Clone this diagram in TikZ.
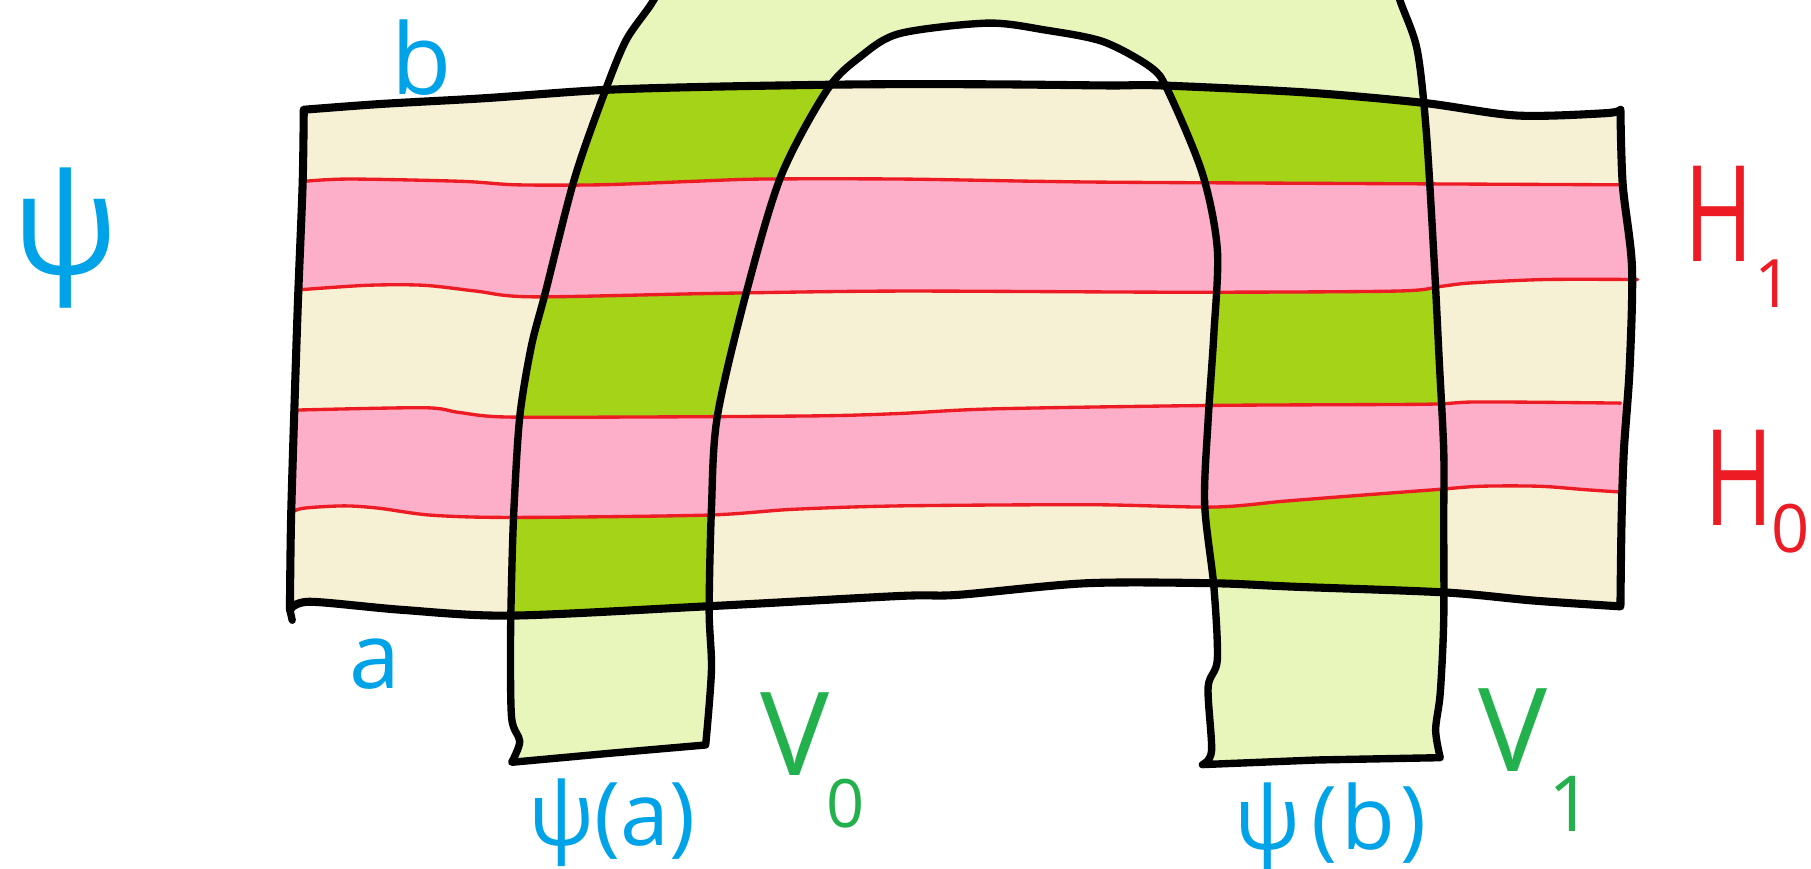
\documentclass[tikz,border=0pt]{standalone}
\usepackage{fontspec}
\setmainfont{Open Sans}
\usepackage{graphicx}
\definecolor{beige}{HTML}{F6F0D4}
\definecolor{pinkb}{HTML}{FDAEC9}
\definecolor{lgreen}{HTML}{E8F6BC}
\definecolor{dgreen}{HTML}{A5D318}
\definecolor{pblue}{HTML}{00A2E8}
\definecolor{pred}{HTML}{ED1C24}
\definecolor{pgreen}{HTML}{22B14C}
\newcommand{\fsz}[1]{\fontsize{#1}{#1}\selectfont}
\tikzset{
  rectp/.style={insert path={
    (263,95) -- plot[smooth,tension=0.5] coordinates {(263,95) (330,90) (420,85) (520,78) (620,75) (750,73) (860,73) (960,74) (1006,74) (1130,80) (1232,89) (1313,100) (1390,98) (1403,95)}
    -- plot[smooth,tension=0.5] coordinates {(1403,95) (1405,160) (1413,231) (1411,318) (1406,390) (1404,450) (1403,525)}
    -- plot[smooth,tension=0.5] coordinates {(1403,525) (1328,520) (1252,513) (1121,508) (1051,505) (940,505) (830,515) (779,516) (611,525) (442,533) (348,528) (268,521) (251,528)}
    -- plot[smooth,tension=0.5] coordinates {(251,528) (252,450) (255,350) (258,260) (262,160) (263,95)} -- cycle}},
  archp/.style={insert path={
    (443,660) -- plot[smooth,tension=0.5] coordinates {(443,660) (450,642) (443,622) (442,560) (443,500) (445,440) (450,361) (460,300) (472,254) (497,156) (522,84) (542,35) (566,0) (585,-40)}
    -- (600,-120) -- (1200,-120) --
    plot[smooth,tension=0.5] coordinates {(1200,-40) (1212,0) (1227,43) (1235,115) (1242,231) (1246,310) (1250,390) (1250,450) (1250,537) (1247,600) (1243,632) (1247,656)}
    -- (1140,658) -- (1041,662)
    -- plot[smooth,tension=0.5] coordinates {(1041,662) (1049,650) (1046,595) (1054,571) (1051,508) (1043,436) (1046,364) (1051,289) (1054,216) (1041,150) (1011,78) (996,58) (955,36) (905,26) (855,20) (779,29) (745,49) (716,78) (676,153) (646,254) (621,361) (616,440) (614,528) (616,580) (611,645)}
    -- (530,652) -- cycle}},
  bandone/.style={insert path={
    plot[smooth,tension=0.5] coordinates {(230,157) (263,157) (303,155) (400,157) (447,160) (520,160) (600,157) (660,155) (779,155) (900,157) (1000,158) (1403,160) (1440,160)}
    -- plot[smooth,tension=0.5] coordinates {(1440,242) (1418,242) (1338,242) (1273,245) (1247,248) (1209,252) (1026,253) (779,252) (620,254) (461,257) (412,252) (367,247) (318,247) (258,251) (230,251)} -- cycle}},
  bandzero/.style={insert path={
    plot[smooth,tension=0.5] coordinates {(230,355) (258,355) (367,353) (397,357) (437,361) (561,361) (711,360) (779,358) (860,354) (1051,351) (1232,350) (1280,348) (1403,349) (1440,349)}
    -- plot[smooth,tension=0.5] coordinates {(1440,426) (1403,426) (1373,424) (1333,421) (1282,421) (1242,424) (1162,430) (1111,434) (1051,439) (945,437) (779,438) (686,441) (611,446) (442,448) (373,446) (328,440) (298,438) (263,440) (251,444) (230,444)} -- cycle}},
  redline/.style={pred, line width=0.95pt, line cap=round},
  blackline/.style={black, line width=2.1pt, line join=round, line cap=round},
  lab/.style={inner sep=0pt, outer sep=0pt}
}
\begin{document}
\begin{tikzpicture}[x=0.01155cm,y=-0.01155cm]
\useasboundingbox (0,0) rectangle (1568,752);
\clip (0,0) rectangle (1568,752);
\fill[lgreen, archp];
\fill[beige, rectp];
\begin{scope}
  \clip[rectp];
  \fill[dgreen, archp];
  \fill[pinkb, bandone];
  \fill[pinkb, bandzero];
\end{scope}
% red lines
\draw[redline] plot[smooth,tension=0.5] coordinates {(263,157) (303,155) (400,157) (447,160) (520,160) (600,157) (660,155) (779,155) (900,157) (1000,158) (1403,160)};
\draw[redline] plot[smooth,tension=0.5] coordinates {(258,251) (318,247) (367,247) (412,252) (461,257) (620,254) (779,252) (1026,253) (1209,252) (1247,248) (1273,245) (1338,242) (1418,242)};
\draw[redline] plot[smooth,tension=0.5] coordinates {(258,355) (367,353) (397,357) (437,361) (561,361) (711,360) (779,358) (860,354) (1051,351) (1232,350) (1280,348) (1403,349)};
\draw[redline] plot[smooth,tension=0.5] coordinates {(251,444) (263,440) (298,438) (328,440) (373,446) (442,448) (611,446) (686,441) (779,438) (945,437) (1051,439) (1111,434) (1162,430) (1242,424) (1282,421) (1333,421) (1373,424) (1403,426)};
% outlines
\draw[blackline, archp];
\draw[blackline, line width=2.3pt, rectp];
\draw[blackline] (251,528) -- (253,537);
% labels
\node[lab, text=pblue, font=\fsz{40pt}] (psi) at (57,206) {ψ};
\node[lab, text=pblue, font=\fsz{28pt}] (lb) at (365,50) {b};
\node[lab, text=pblue, font=\fsz{26pt}] (la) at (325,575) {a};
\node[lab, text=pred, font=\fsz{38pt}] (hone) at (1488,185) {\scalebox{0.7}[1]{H}};
\node[lab, text=pred, font=\fsz{19pt}] (honesub) at (1536,246) {1};
\node[lab, text=pred, font=\fsz{38pt}] (hzero) at (1506,414) {\scalebox{0.7}[1]{H}};
\node[lab, text=pred, font=\fsz{19pt}] (hzerosub) at (1550,458) {0};
\node[lab, text=pgreen, font=\fsz{33pt}] (vzero) at (688,636) {V};
\node[lab, text=pgreen, font=\fsz{19pt}] (vzerosub) at (732,696) {0};
\node[lab, text=pgreen, font=\fsz{33pt}] (vone) at (1310,632) {V};
\node[lab, text=pgreen, font=\fsz{22pt}] (vonesub) at (1360,696) {1};
\node[lab, text=pblue, font=\fsz{25pt}] (psia) at (530,712) {ψ(a)};
\node[lab, text=pblue, font=\fsz{25pt}] (psib) at (1152,716) {ψ\hspace{0.12em}(\hspace{0.05em}b\hspace{0.05em})};
\end{tikzpicture}
\end{document}
